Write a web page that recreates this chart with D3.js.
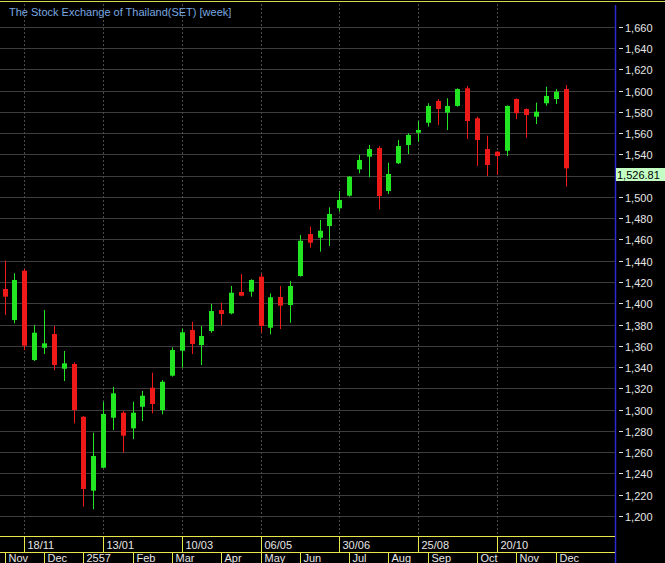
<!DOCTYPE html>
<html>
<head>
<meta charset="utf-8">
<script src="https://cdn.jsdelivr.net/npm/d3@7"></script>
<style>
html,body{margin:0;padding:0;background:#000;}
svg{display:block;}
text{font-family:Arial,"Liberation Sans",sans-serif;}
</style>
</head>
<body>
<script>
// ---- data ----
const opens  = [1413.4,1384.2,1430.6,1346.6,1358.2,1371.1,1338.5,1342.9,1293.3,1223.8,
                1245.4,1292.4,1297.1,1282.4,1302.7,1320.6,1299.6,1331.9,1355.4,1374.8,
                1360.7,1373.9,1393.6,1390.5,1410.6,1410.9,1425.0,1377.0,1405.9,1398.3,
                1425.6,1465.1,1461.6,1472.6,1489.3,1501.1,1525.9,1537.8,1546.0,1505.5,
                1531.6,1548.8,1560.3,1569.7,1590.2,1579.2,1585.5,1602.1,1573.9,1545.0,
                1542.5,1543.4,1592.0,1582.6,1575.4,1588.0,1592.0,1601.4];
const highs  = [1440.0,1428.2,1432.5,1379.5,1393.6,1378.6,1355.1,1344.5,1294.0,1278.3,
                1307.4,1321.5,1298.7,1307.4,1317.5,1334.7,1327.8,1358.6,1376.1,1382.6,
                1378.6,1399.3,1400.5,1416.2,1427.5,1422.5,1427.5,1409.3,1416.2,1420.9,
                1464.2,1472.0,1478.3,1490.2,1505.5,1519.6,1539.4,1548.8,1547.8,1532.1,
                1553.5,1559.8,1571.4,1588.0,1592.0,1592.7,1602.1,1604.3,1575.4,1557.5,
                1543.0,1586.0,1592.5,1583.3,1588.6,1603.6,1601.4,1605.2];
const lows   = [1389.0,1381.1,1356.0,1345.7,1352.3,1337.2,1326.9,1287.1,1208.7,1206.3,
                1245.0,1280.8,1259.5,1272.4,1289.3,1296.5,1295.6,1331.0,1339.4,1352.3,
                1341.9,1372.3,1379.5,1389.6,1406.5,1406.2,1372.3,1370.8,1375.8,1381.7,
                1425.0,1452.2,1448.5,1453.8,1486.1,1500.2,1522.2,1518.4,1488.3,1502.7,
                1530.9,1540.3,1551.9,1566.0,1567.6,1562.9,1584.8,1554.4,1529.0,1519.6,
                1520.5,1538.4,1573.0,1555.6,1568.5,1585.7,1587.3,1509.6];
const closes = [1406.2,1421.9,1360.1,1372.3,1362.3,1341.9,1343.5,1299.6,1225.4,1256.4,
                1295.9,1315.3,1275.5,1297.1,1313.1,1305.3,1326.2,1356.0,1372.7,1361.7,
                1369.2,1392.7,1389.9,1409.9,1407.1,1421.9,1378.6,1405.6,1397.7,1416.2,
                1458.8,1456.9,1468.2,1483.9,1497.1,1519.0,1534.7,1545.0,1500.8,1521.5,
                1547.8,1558.2,1562.9,1585.5,1582.6,1585.5,1601.4,1571.3,1553.5,1530.0,
                1538.4,1585.5,1578.6,1577.0,1580.1,1594.9,1598.9,1526.81];
const dateLabels = ["18/11","13/01","10/03","06/05","30/06","25/08","20/10"];
const dateIdx    = [2,10,18,26,34,42,50];
const monthLabels = ["Nov","Dec","2557","Feb","Mar","Apr","May","Jun","Jul","Aug","Sep","Oct","Nov","Dec"];
const monthIdx    = [0,4,8,13,17,22,26,30,35,39,43,48,52,56];
const yTicks = d3.range(1200, 1661, 20);
const title = "The Stock Exchange of Thailand(SET) [week]";
const lastPrice = 1526.81;

// ---- layout ----
const W = 665, H = 563;
const plotRight = 615;
const svg = d3.select("body").append("svg").attr("width", W).attr("height", H);
svg.append("rect").attr("width", W).attr("height", H).attr("fill", "#000");

const x = d3.scaleLinear().domain([0, 57]).range([4.62, 565.6]);
const y = d3.scaleLinear().domain([1200, 1660]).range([516, 26.7]);
const px = v => Math.round(x(v)) + 0.5;
const py = v => Math.round(y(v)) + 0.5;

// horizontal grid
svg.append("g").selectAll("line").data(yTicks).join("line")
  .attr("x1", 0).attr("x2", plotRight)
  .attr("y1", d => py(d)).attr("y2", d => py(d))
  .attr("stroke", "#3d3d3d").attr("stroke-width", 1);

// vertical dashed grid
svg.append("g").selectAll("line").data(dateIdx).join("line")
  .attr("x1", d => px(d)).attr("x2", d => px(d))
  .attr("y1", 4).attr("y2", 536)
  .attr("stroke", "#4a4a4a").attr("stroke-dasharray", "2,2");

// top yellow line
svg.append("line").attr("x1", 0).attr("x2", W).attr("y1", 1.5).attr("y2", 1.5)
  .attr("stroke", "#d8d84a").attr("stroke-width", 1);

// title
svg.append("text").attr("x", 9).attr("y", 16).attr("fill", "#78a8e0")
  .attr("font-size", 11).text(title);

// candles
const data = opens.map((o, i) => ({i, o, h: highs[i], l: lows[i], c: closes[i]}));
const up = "#22e622", dn = "#ee1a1a";
const cg = svg.append("g");
cg.selectAll("line").data(data).join("line")
  .attr("x1", d => px(d.i)).attr("x2", d => px(d.i))
  .attr("y1", d => y(d.h)).attr("y2", d => y(d.l))
  .attr("stroke", d => d.c >= d.o ? up : dn).attr("stroke-width", 1);
cg.selectAll("rect").data(data).join("rect")
  .attr("x", d => Math.round(x(d.i)) - 2)
  .attr("width", 5)
  .attr("y", d => y(Math.max(d.o, d.c)))
  .attr("height", d => Math.max(2, Math.abs(y(d.o) - y(d.c))))
  .attr("fill", d => d.c >= d.o ? up : dn);

// right axis
const ax = svg.append("g");
ax.append("line").attr("x1", plotRight + 0.5).attr("x2", plotRight + 0.5)
  .attr("y1", 5).attr("y2", H).attr("stroke", "#2a2ad0").attr("stroke-width", 1.5);
const fmt = d3.format(",");
const ly = Math.round(y(lastPrice));
// tick labels hidden where the last-price box covers them
const shownTicks = yTicks.filter(d => Math.abs(py(d) - (ly + 6.5)) > 12);
const tk = ax.selectAll("g.t").data(shownTicks).join("g").attr("class", "t")
  .attr("transform", d => `translate(0,${py(d)})`);
tk.append("line").attr("x1", 619).attr("x2", 623).attr("stroke", "#e0e0e0");
tk.append("text").attr("x", 625).attr("y", 4).attr("font-size", 11)
  .attr("fill", "#e6e6e6").text(d => fmt(d));

// last price label
ax.append("rect").attr("x", 616).attr("y", ly).attr("width", 49).attr("height", 13)
  .attr("fill", "#c4ffc4");
ax.append("text").attr("x", 617).attr("y", ly + 10.5).attr("font-size", 11)
  .attr("fill", "#000").text(d3.format(",.2f")(lastPrice));

// bottom date rows
const yl = "#e8e84a";
const b = svg.append("g");
b.append("line").attr("x1", 0).attr("x2", plotRight).attr("y1", 536.5).attr("y2", 536.5).attr("stroke", yl);
b.append("line").attr("x1", 0).attr("x2", plotRight).attr("y1", 552.5).attr("y2", 552.5).attr("stroke", yl);
b.selectAll("line.d").data(dateIdx).join("line").attr("class", "d")
  .attr("x1", d => px(d)).attr("x2", d => px(d)).attr("y1", 536).attr("y2", 553).attr("stroke", yl);
b.selectAll("text.d").data(dateIdx).join("text").attr("class", "d")
  .attr("x", d => px(d) + 3).attr("y", 548.5).attr("font-size", 11).attr("fill", "#e6e6e6")
  .text((d, k) => dateLabels[k]);
b.selectAll("line.m").data(monthIdx).join("line").attr("class", "m")
  .attr("x1", d => px(d)).attr("x2", d => px(d)).attr("y1", 552).attr("y2", H).attr("stroke", yl);
b.selectAll("text.m").data(monthIdx).join("text").attr("class", "m")
  .attr("x", d => px(d) + 3).attr("y", 562).attr("font-size", 11).attr("fill", "#e6e6e6")
  .text((d, k) => monthLabels[k]);
</script>
</body>
</html>
